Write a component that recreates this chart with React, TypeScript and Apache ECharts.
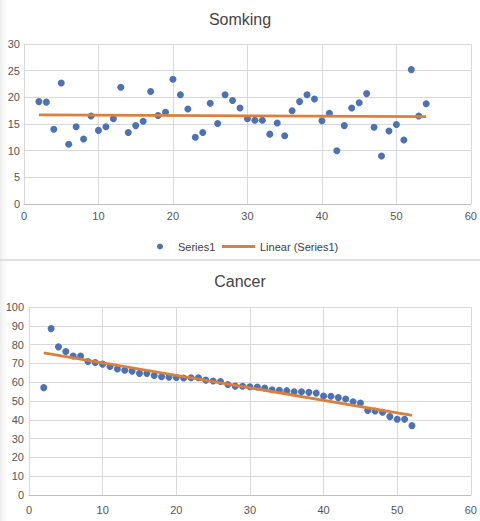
import React, { useEffect, useRef } from "react";
import * as echarts from "echarts";

const smokingTitle = "Somking";
const cancerTitle = "Cancer";
const seriesName = "Series1";
const trendName = "Linear (Series1)";

const smokingX = [2, 3, 4, 5, 6, 7, 8, 9, 10, 11, 12, 13, 14, 15, 16, 17, 18, 19, 20, 21, 22, 23, 24, 25, 26, 27, 28, 29, 30, 31, 32, 33, 34, 35, 36, 37, 38, 39, 40, 41, 42, 43, 44, 45, 46, 47, 48, 49, 50, 51, 52, 53, 54];
const smokingY = [19.2, 19.1, 14.0, 22.7, 11.2, 14.5, 12.2, 16.5, 13.8, 14.5, 16.0, 21.9, 13.4, 14.7, 15.5, 21.1, 16.6, 17.2, 23.4, 20.5, 17.8, 12.5, 13.4, 18.9, 15.1, 20.5, 19.4, 18.0, 16.0, 15.7, 15.7, 13.1, 15.2, 12.8, 17.5, 19.2, 20.5, 19.7, 15.6, 17.0, 10.0, 14.7, 18.0, 19.0, 20.7, 14.4, 9.0, 13.7, 14.9, 12.0, 25.2, 16.5, 18.8];
const smokingTrendX = [2, 54];
const smokingTrendY = [16.7, 16.4];

const cancerX = [2, 3, 4, 5, 6, 7, 8, 9, 10, 11, 12, 13, 14, 15, 16, 17, 18, 19, 20, 21, 22, 23, 24, 25, 26, 27, 28, 29, 30, 31, 32, 33, 34, 35, 36, 37, 38, 39, 40, 41, 42, 43, 44, 45, 46, 47, 48, 49, 50, 51, 52];
const cancerY = [57.1, 88.5, 78.8, 76.3, 73.9, 73.9, 71.0, 70.5, 69.6, 68.4, 67.0, 66.4, 65.9, 64.7, 64.7, 63.6, 62.9, 62.7, 62.5, 62.2, 62.4, 62.4, 61.1, 60.6, 60.4, 58.8, 57.9, 57.8, 57.6, 57.4, 56.9, 56.0, 55.7, 55.5, 54.9, 54.9, 54.6, 54.2, 52.7, 52.5, 51.8, 51.1, 49.6, 48.9, 44.9, 44.7, 44.0, 41.7, 40.3, 40.3, 36.9];
const cancerTrendX = [2, 52];
const cancerTrendY = [75.6, 42.4];

const BLUE = "#4a72b5";
const ORANGE = "#db7f3c";
const TEXT = "#555555";
const GRIDC = "#d9d9d9";
const FONT = "'Liberation Sans', Arial, sans-serif";

const zip = (xs: number[], ys: number[]) => xs.map((x, i) => [x, ys[i]]);

export default function App() {
  const ref = useRef<HTMLDivElement>(null);
  useEffect(() => {
    if (!ref.current) return;
    const chart = echarts.init(ref.current, null, { renderer: "svg" });
    const axisCommon = (min: number, max: number, interval: number, isX: boolean, margin: number) => ({
      type: "value",
      min,
      max,
      interval,
      axisLine: { show: true, lineStyle: { color: isX ? "#bfbfbf" : GRIDC } },
      axisTick: { show: false },
      splitLine: { show: true, lineStyle: { color: GRIDC, width: 1 } },
      axisLabel: { color: TEXT, fontSize: 11, fontFamily: FONT, margin },
    });
    chart.setOption({
      animation: false,
      backgroundColor: "#ffffff",
      textStyle: { fontFamily: FONT },
      title: [
        { text: smokingTitle, left: "center", top: 6, textStyle: { fontSize: 16, fontWeight: "normal", color: "#444", fontFamily: FONT } },
        { text: cancerTitle, left: "center", top: 268, textStyle: { fontSize: 16, fontWeight: "normal", color: "#444", fontFamily: FONT } },
      ],
      legend: [
        {
          data: [{ name: seriesName, icon: "circle" }],
          left: 152,
          top: 236,
          itemWidth: 26,
          itemHeight: 6,
          textStyle: { color: "#404040", fontSize: 11, fontFamily: FONT },
          selectedMode: false,
        },
        {
          data: [{ name: trendName, icon: "rect" }],
          left: 217,
          top: 236,
          itemWidth: 33,
          itemHeight: 3,
          textStyle: { color: "#404040", fontSize: 11, fontFamily: FONT },
          selectedMode: false,
        },
      ],
      grid: [
        { left: 24, right: 9, top: 44, height: 160, containLabel: false },
        { left: 29, right: 9, top: 307, height: 188, containLabel: false },
      ],
      xAxis: [
        { ...axisCommon(0, 60, 10, true, 6), gridIndex: 0 },
        { ...axisCommon(0, 60, 10, true, 9), gridIndex: 1 },
      ],
      yAxis: [
        { ...axisCommon(0, 30, 5, false, 4), gridIndex: 0 },
        { ...axisCommon(0, 100, 10, false, 5), gridIndex: 1 },
      ],
      graphic: [
        {
          type: "rect",
          shape: { x: 0, y: 0, width: 10, height: 521 },
          style: {
            fill: new echarts.graphic.LinearGradient(0, 0, 1, 0, [
              { offset: 0, color: "#ececec" },
              { offset: 1, color: "rgba(255,255,255,0)" },
            ]),
          },
          silent: true,
          z: -1,
        },
        {
          type: "line",
          shape: { x1: 0, y1: 260, x2: 480, y2: 260 },
          style: { stroke: "#d6d6d6", lineWidth: 1.5 },
          silent: true,
        },
      ],
      series: [
        {
          name: seriesName,
          type: "scatter",
          xAxisIndex: 0,
          yAxisIndex: 0,
          data: zip(smokingX, smokingY),
          symbolSize: 7,
          itemStyle: { color: BLUE, opacity: 1 },
          z: 2,
        },
        {
          name: trendName,
          type: "line",
          xAxisIndex: 0,
          yAxisIndex: 0,
          data: zip(smokingTrendX, smokingTrendY),
          symbol: "none",
          lineStyle: { color: ORANGE, width: 2.75 },
          itemStyle: { color: ORANGE },
          z: 3,
        },
        {
          name: seriesName,
          type: "scatter",
          xAxisIndex: 1,
          yAxisIndex: 1,
          data: zip(cancerX, cancerY),
          symbolSize: 7,
          itemStyle: { color: BLUE, opacity: 1 },
          z: 2,
        },
        {
          name: trendName,
          type: "line",
          xAxisIndex: 1,
          yAxisIndex: 1,
          data: zip(cancerTrendX, cancerTrendY),
          symbol: "none",
          lineStyle: { color: ORANGE, width: 2.75 },
          itemStyle: { color: ORANGE },
          z: 3,
        },
      ],
    });
    return () => chart.dispose();
  }, []);
  return (
    <div
      ref={ref}
      style={{ position: "absolute", left: 0, top: 0, width: 480, height: 521, background: "#fff" }}
    />
  );
}
